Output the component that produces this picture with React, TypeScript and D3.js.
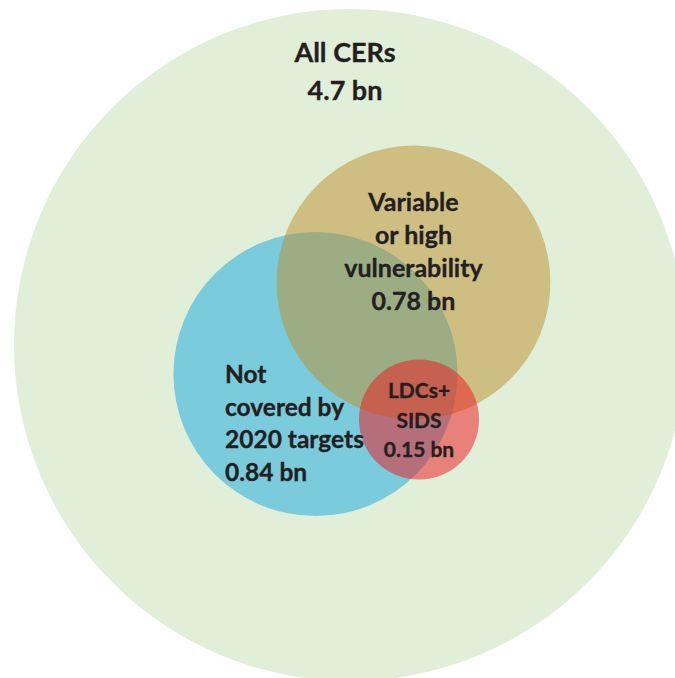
import React from "react";
import * as d3 from "d3";

// Data
const setNames = ["All CERs", "Variable or high vulnerability", "Not covered by 2020 targets", "LDCs+ SIDS"];
const setValues = [4.7, 0.78, 0.84, 0.15]; // billion CERs
const labelLines = [
  ["All CERs"],
  ["Variable", "or high", "vulnerability"],
  ["Not", "covered by", "2020 targets"],
  ["LDCs+", "SIDS"],
];

// Layout (positions & styles)
const W = 675;
const H = 678;
const centers: [number, number][] = [
  [350, 345],
  [413.5, 282.5],
  [315.5, 374],
  [419, 419.5],
];
const fills = ["#e1eed8", "#bd8e2c", "#7acbdb", "#ef141c"];
const opacities = [1, 0.5, 1, 0.5];
const drawOrder = [0, 2, 1, 3];
const labelPos = [
  { x: 345, y: 62, anchor: "middle", size: 27, lh: 38 },
  { x: 413.5, y: 211, anchor: "middle", size: 25, lh: 33 },
  { x: 225, y: 383, anchor: "start", size: 24.5, lh: 32.7 },
  { x: 419, y: 398, anchor: "middle", size: 21, lh: 29.5 },
];

export default function App() {
  const r = d3.scaleSqrt().domain([0, 4.7]).range([0, 336]);
  const fmt = (v: number) => `${v} bn`;
  return (
    <div style={{ position: "absolute", left: 0, top: 0 }}>
      <svg width={W} height={H} style={{ display: "block" }}>
        <rect width={W} height={H} fill="#ffffff" />
        {drawOrder.map((i) => (
          <circle
            key={setNames[i]}
            cx={centers[i][0]}
            cy={centers[i][1]}
            r={r(setValues[i])}
            fill={fills[i]}
            fillOpacity={opacities[i]}
          />
        ))}
        {labelLines.map((lines, i) => {
          const p = labelPos[i];
          const all = [...lines, fmt(setValues[i])];
          return (
            <text
              key={i}
              x={p.x}
              y={p.y}
              textAnchor={p.anchor as any}
              fontFamily="Lato, 'Open Sans', sans-serif"
              fontWeight="bold"
              fontSize={p.size}
              fill="#231f20"
              stroke="#231f20"
              strokeWidth={0.35}
            >
              {all.map((l, j) => (
                <tspan key={j} x={p.x} y={p.y + j * p.lh}>
                  {l}
                </tspan>
              ))}
            </text>
          );
        })}
      </svg>
    </div>
  );
}
